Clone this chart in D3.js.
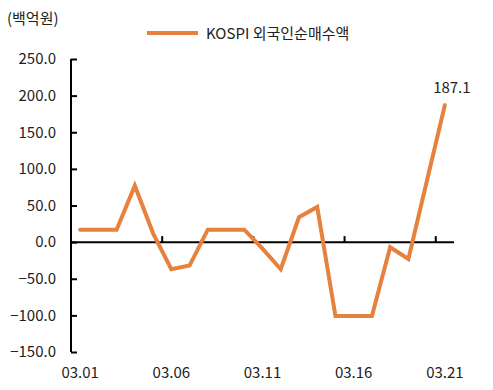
<!DOCTYPE html>
<html><head><meta charset="utf-8">
<script src="https://cdn.jsdelivr.net/npm/d3@7"></script>
<style>body{margin:0;background:#fff}svg{display:block}text{font-family:"Noto Sans CJK KR","Noto Sans",sans-serif;fill:#222}</style>
</head><body><svg id="c" width="493" height="390"></svg>
<script>
const categories = ["03.01","03.02","03.03","03.04","03.05","03.06","03.07","03.08","03.09","03.10","03.11","03.12","03.13","03.14","03.15","03.16","03.17","03.18","03.19","03.20","03.21"];
const values = [17,17,17,77,12,-37,-32,17,17,17,-9,-37,34,48,-101,-101,-101,-7,-23,82,187.1];
const yTicks = [250,200,150,100,50,0,-50,-100,-150];
const seriesName = "KOSPI 외국인순매수액";
const unitLabel = "(백억원)";
const labelIdx = [0,5,10,15,20];

const svg = d3.select("#c");
const color = "#E6823E";
const x = d3.scaleBand().domain(categories).range([71,454]).padding(0);
const y = d3.scaleLinear().domain([-150,250]).range([352,59]);

// y axis
const ya = svg.append("g").attr("transform","translate(71,0)")
  .call(d3.axisLeft(y).tickValues(yTicks).tickSize(-6).tickPadding(16).tickFormat(d3.format(".1f")));
ya.select(".domain").attr("stroke","#000").attr("stroke-width",2).attr("d","M0,"+y(250)+"V"+y(-150));
ya.selectAll(".tick line").attr("stroke","#000").attr("stroke-width",2);
ya.selectAll(".tick text").style("font-size","15px").attr("fill","#222").text(d=>d3.format(".1f")(d).replace("-","−")).attr("x",-15);

// x axis at zero
const xa = svg.append("g").attr("transform","translate(0,"+y(0)+")");
xa.append("line").attr("x1",71).attr("x2",454).attr("stroke","#000").attr("stroke-width",2);
[5,10,15,20].forEach(i=>{
  const xx = x(categories[i]);
  xa.append("line").attr("x1",xx).attr("x2",xx).attr("y1",0).attr("y2",-6).attr("stroke","#000").attr("stroke-width",2);
});
svg.append("g").selectAll("text").data(labelIdx).join("text")
  .attr("x",i=>x(categories[i])+x.bandwidth()/2).attr("y",378)
  .attr("text-anchor","middle").style("font-size","15px").text(i=>categories[i]);

// line
const line = d3.line().x((d,i)=>x(categories[i])+x.bandwidth()/2).y(d=>y(d));
svg.append("path").datum(values).attr("d",line).attr("fill","none")
  .attr("stroke",color).attr("stroke-width",4).attr("stroke-linejoin","miter").attr("stroke-linecap","round");

// annotation
const li = values.length-1;
svg.append("text").attr("x",x(categories[li])+x.bandwidth()/2+7).attr("y",y(values[li])-12)
  .attr("text-anchor","middle").style("font-size","15px").text(values[li].toFixed(1));

// unit
svg.append("text").attr("x",7).attr("y",24).style("font-size","15px").text(unitLabel);
// legend
svg.append("line").attr("x1",147).attr("x2",198).attr("y1",33).attr("y2",33).attr("stroke",color).attr("stroke-width",4);
svg.append("text").attr("x",206).attr("y",38.5).style("font-size","15px").text(seriesName);
</script></body></html>
